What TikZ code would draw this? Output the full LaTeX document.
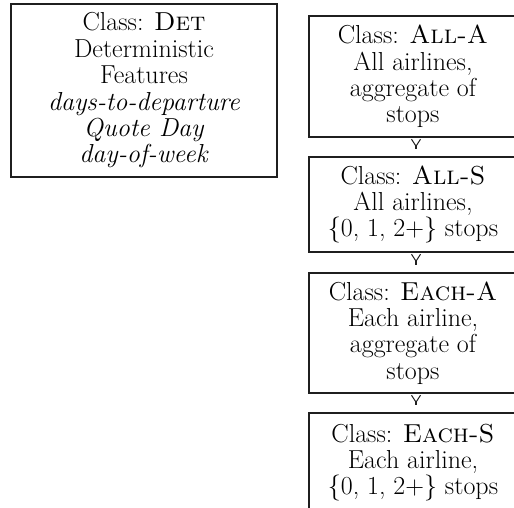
\documentclass[tikz,border=0pt]{standalone}
\usetikzlibrary{arrows.meta}
\begin{document}
\begin{tikzpicture}[x=1pt,y=-1pt,
  box/.style={draw=black!88, line width=2.4pt, rectangle, align=center, inner sep=0pt,
    font=\fontsize{26}{26.4}\selectfont},
  rbox/.style={box, minimum width=208pt},
  stem/.style={line width=2.6pt, draw=black!88},
  barb/.style={line width=1pt, draw=black!88, line join=miter}]
\useasboundingbox (0,0) rectangle (514,507);
\clip (0,0) rectangle (514,507);
\node[box, minimum width=266pt, minimum height=173pt] (det) at (144,90.5)
  {Class: \textsc{Det}\\Deterministic\\Features\\\textit{days-to-departure}\\\textit{Quote Day}\\\textit{day-of-week}};
\node[rbox, minimum height=121pt] (alla) at (413,76.5)
  {Class: \textsc{All-A}\\All airlines,\\aggregate of\\stops};
\node[rbox, minimum height=95pt] (alls) at (413,204.5)
  {Class: \textsc{All-S}\\All airlines,\\\{0, 1, 2+\} stops};
\node[rbox, minimum height=120pt] (eacha) at (413,333)
  {Class: \textsc{Each-A}\\Each airline,\\aggregate of\\stops};
\node[rbox, minimum height=99pt] (eachs) at (413,462.5)
  {Class: \textsc{Each-S}\\Each airline,\\\{0, 1, 2+\} stops};
\foreach \a/\b in {alla/alls, alls/eacha, eacha/eachs}{
  \draw[stem] ([xshift=3pt,yshift=-8pt]\a.south) -- ([xshift=3pt,yshift=7pt]\b.north);
  \draw[barb] ([xshift=-1.5pt,yshift=-1pt]\a.south) -- ([xshift=3pt,yshift=-8pt]\a.south) -- ([xshift=7.5pt,yshift=-1pt]\a.south);
}
\end{tikzpicture}
\end{document}
